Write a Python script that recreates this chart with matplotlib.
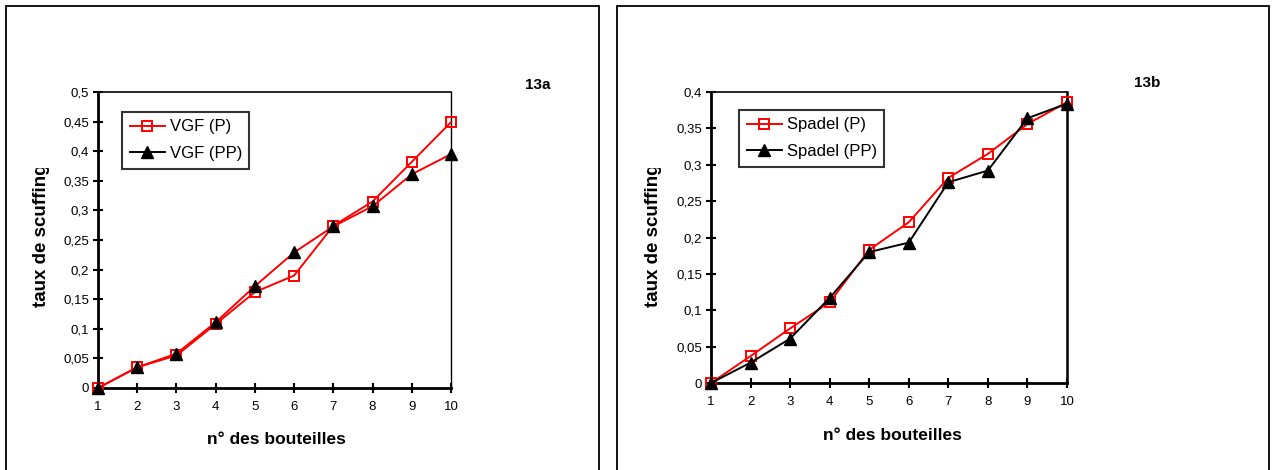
import numpy as np
import matplotlib.pyplot as plt
from matplotlib.patches import Rectangle
from matplotlib.lines import Line2D
from matplotlib.ticker import FuncFormatter
from matplotlib.transforms import Bbox

plt.rcParams['font.family'] = ['Liberation Sans', 'DejaVu Sans']

bottles = np.arange(1, 11)

vgf_p = [0, 0.035, 0.055, 0.108, 0.162, 0.19, 0.274, 0.315, 0.382, 0.449]
vgf_pp = [0, 0.035, 0.058, 0.111, 0.172, 0.229, 0.273, 0.307, 0.361, 0.395]

spadel_p = [0, 0.037, 0.075, 0.111, 0.183, 0.221, 0.282, 0.315, 0.356, 0.386]
spadel_pp = [0, 0.028, 0.061, 0.117, 0.180, 0.193, 0.276, 0.292, 0.364, 0.384]

W, H = 1276, 470
fig = plt.figure(figsize=(W / 100, H / 100), dpi=100)


def px_box(x0, y0, x1, y1):
    return [x0 / W, 1 - y1 / H, (x1 - x0) / W, (y1 - y0) / H]


# outer frames
for x0, x1 in [(6, 599), (617, 1269)]:
    fig.patches.append(Rectangle((x0 / W, -0.1), (x1 - x0) / W, 1 - 6 / H + 0.1,
                                 transform=fig.transFigure, fill=False,
                                 edgecolor='black', linewidth=1.3))

comma = FuncFormatter(lambda v, p: ('%g' % v).replace('.', ','))


def panel(box, p, pp, names, ymax, step, pp_line, leg_box, tag, tag_xy, xl_xy, yl_x, right_w):
    ax = fig.add_axes(px_box(*box))
    ax.plot(bottles, p, color='red', lw=1.4, marker='s', ms=6.8,
            mfc='none', mec='red', mew=1.4, clip_on=False, zorder=3)
    ax.plot(bottles, pp, color=pp_line, lw=1.4, marker='^', ms=8,
            mfc='black', mec='black', clip_on=False, zorder=4)
    ax.set_xlim(1, 10)
    ax.set_ylim(0, ymax)
    ax.set_xticks(bottles)
    ax.set_yticks(np.arange(0, ymax + step / 2, step))
    ax.yaxis.set_major_formatter(comma)
    for s in ['left', 'bottom']:
        ax.spines[s].set_linewidth(2)
    ax.spines['top'].set_linewidth(1.2)
    ax.spines['right'].set_linewidth(right_w)
    ax.tick_params(direction='inout', length=7, width=1.5, labelsize=9.5)
    ax.tick_params(axis='x', pad=6)
    ax.tick_params(axis='y', pad=3)
    handles = [Line2D([], [], color='red', lw=1.4, marker='s', ms=6.8, mfc='none', mew=1.4),
               Line2D([], [], color='black', lw=1.4, marker='^', ms=8, mfc='black')]
    x0, y0 = leg_box
    leg = ax.legend(handles, names, loc='upper left', fontsize=12,
                    bbox_to_anchor=(x0 / W, 1 - y0 / H), bbox_transform=fig.transFigure,
                    frameon=True, fancybox=False, edgecolor='black',
                    handlelength=2.15, handletextpad=0.25, borderpad=0.45,
                    labelspacing=0.7, borderaxespad=0)
    leg.get_frame().set_linewidth(1.5)
    fig.text(tag_xy[0] / W, 1 - tag_xy[1] / H, tag, fontsize=11, fontweight='bold',
             ha='center', va='center')
    fig.text(xl_xy[0] / W, 1 - xl_xy[1] / H, 'n° des bouteilles', fontsize=12.5,
             fontweight='bold', ha='center', va='center')
    # y label is cut off at the top in the original
    yl = fig.text(yl_x / W, 1 - 307 / H, 'taux de scuffing', fontsize=13.5,
                  fontweight='bold', rotation=90, ha='center', va='bottom')
    yl.set_clip_box(Bbox.from_extents(0, H - 310, W, H - 168))
    yl.set_clip_on(True)
    return ax


panel((98, 92, 451, 388), vgf_p, vgf_pp, ['VGF (P)', 'VGF (PP)'], 0.5, 0.05,
      'red', (122, 112), '13a', (538, 85), (276, 440), 41, 1.0)
panel((711, 92, 1067, 383), spadel_p, spadel_pp, ['Spadel (P)', 'Spadel (PP)'], 0.4, 0.05,
      'black', (739, 110), '13b', (1147, 83), (892, 436), 654, 1.8)

fig.savefig('out.png', dpi=100)
